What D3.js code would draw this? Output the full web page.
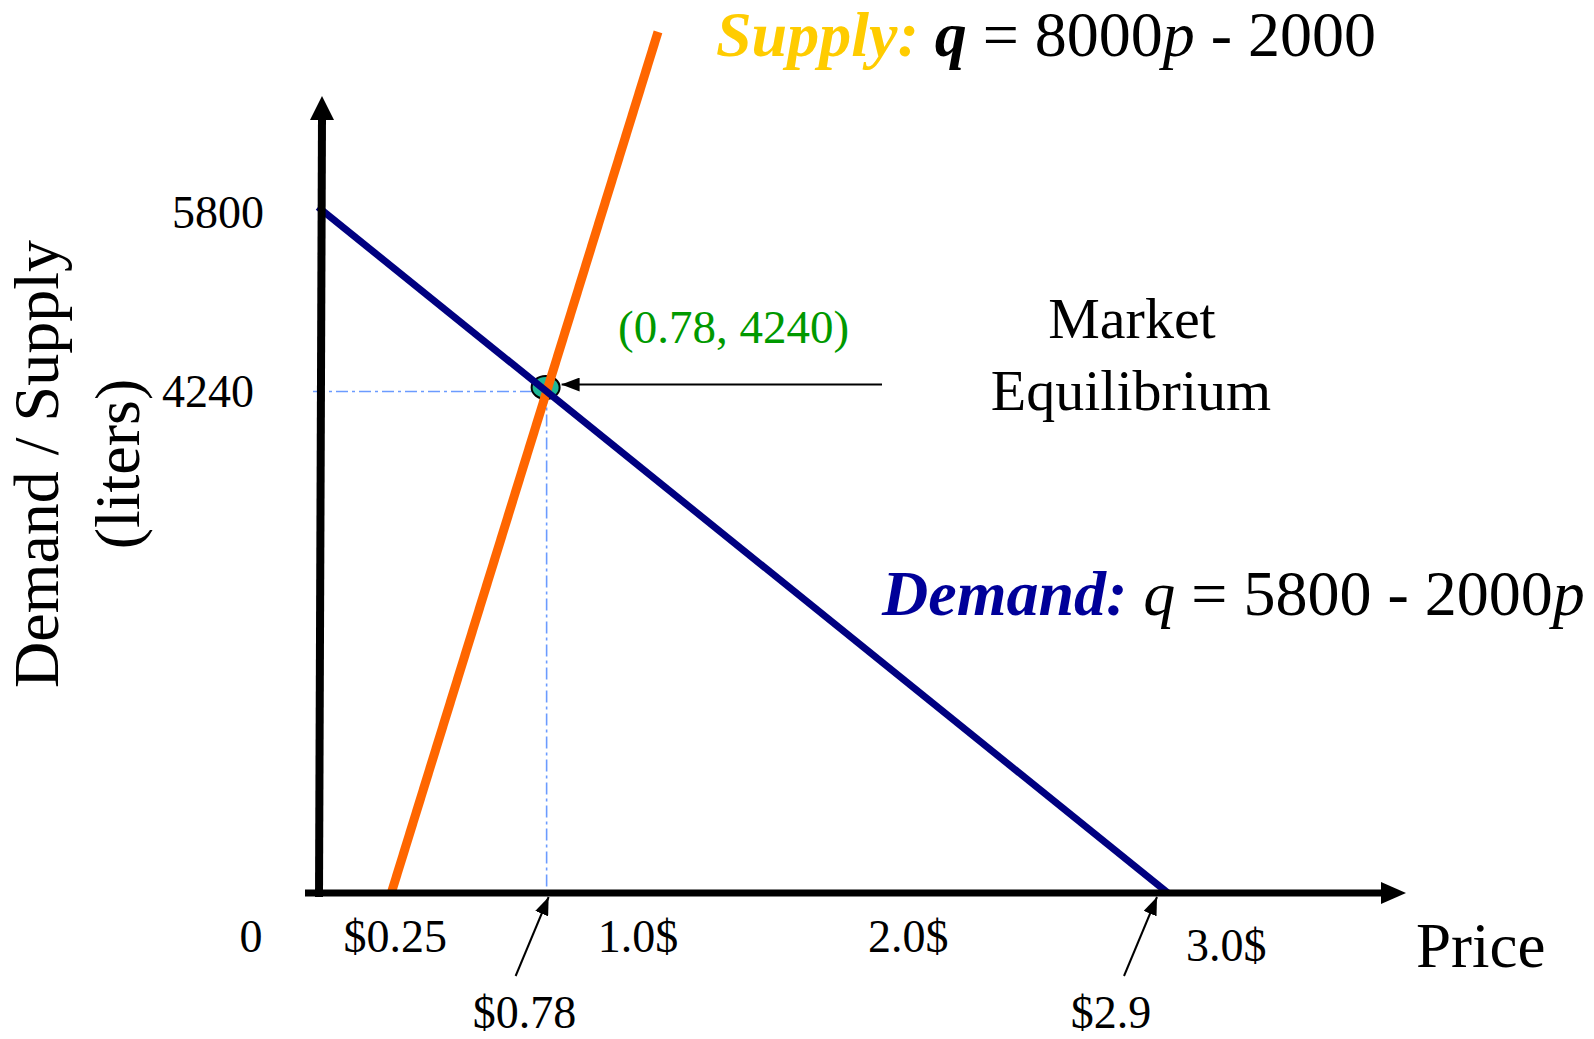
<!DOCTYPE html>
<html>
<head>
<meta charset="utf-8">
<script src="https://cdn.jsdelivr.net/npm/d3@7/dist/d3.min.js"></script>
<style>
  html, body { margin: 0; padding: 0; background: #ffffff; }
  svg { display: block; }
  text { font-family: "Liberation Serif", "Times New Roman", serif; }
</style>
</head>
<body>
<svg id="chart" width="1594" height="1039"></svg>
<script>
// ---- Model: linear demand and supply curves (price in $, quantity in liters)
const demandPrices = [0, 2.9];
const demandQty    = [5800, 0];          // q = 5800 - 2000p
const supplyPrices = [0.25, 1.16];
const supplyQty    = [0, 7280];          // q = 8000p - 2000
const eqPrice = 0.78;
const eqQty = 4240;

// ---- Axis labels
const yTickValues = [5800, 4240];
const yTickLabels = ["5800", "4240"];
const xTickValues = [0.25, 1.0, 2.0, 3.0];
const xTickLabels = ["$0.25", "1.0$", "2.0$", "3.0$"];
const priceCallouts = [0.78, 2.9];
const priceCalloutLabels = ["$0.78", "$2.9"];

const svg = d3.select("#chart");

const x = d3.scaleLinear().domain([0, 2.9]).range([318, 1168]);
const y = d3.scaleLinear().domain([0, 5800]).range([893, 207]);

// arrowhead marker for the thin pointer lines
const defs = svg.append("defs");
defs.append("marker")
  .attr("id", "thinHead")
  .attr("viewBox", "0 0 18 14")
  .attr("refX", 18).attr("refY", 7)
  .attr("markerWidth", 18).attr("markerHeight", 14)
  .attr("markerUnits", "userSpaceOnUse")
  .attr("orient", "auto")
  .append("path").attr("d", "M0,0 L18,7 L0,14 Z").attr("fill", "#000");

// ---- Guide lines to the equilibrium point
const guide = { stroke: "#6b9bff", width: 1.6, dash: "12,4,3,4" };
svg.append("line")
  .attr("x1", 313).attr("x2", x(eqPrice))
  .attr("y1", y(eqQty)).attr("y2", y(eqQty))
  .attr("stroke", guide.stroke).attr("stroke-width", guide.width)
  .attr("stroke-dasharray", guide.dash);
svg.append("line")
  .attr("x1", x(eqPrice)).attr("x2", x(eqPrice))
  .attr("y1", y(eqQty)).attr("y2", y(0) + 3)
  .attr("stroke", guide.stroke).attr("stroke-width", guide.width)
  .attr("stroke-dasharray", guide.dash);

// equilibrium marker
svg.append("ellipse")
  .attr("cx", x(eqPrice) - 1).attr("cy", y(eqQty) - 4)
  .attr("rx", 14).attr("ry", 11.5)
  .attr("fill", "#1fb896").attr("stroke", "#000").attr("stroke-width", 2);

// ---- Curves
const line = d3.line().x(d => x(d[0])).y(d => y(d[1]));

svg.append("path")
  .datum(d3.zip(supplyPrices, supplyQty))
  .attr("d", line)
  .attr("fill", "none").attr("stroke", "#ff6600")
  .attr("stroke-width", 9).attr("stroke-linecap", "butt");

svg.append("path")
  .datum(d3.zip(demandPrices, demandQty))
  .attr("d", line)
  .attr("fill", "none").attr("stroke", "#000080")
  .attr("stroke-width", 7).attr("stroke-linecap", "butt");

// ---- Axes (thick arrows)
const axisX0 = x(0);
const axisY0 = y(0);
svg.append("line")
  .attr("x1", axisX0 + 1).attr("x2", axisX0 + 4)
  .attr("y1", axisY0 + 4).attr("y2", 117)
  .attr("stroke", "#000").attr("stroke-width", 8);
svg.append("path")
  .attr("d", `M${axisX0 + 4},96 L${axisX0 + 16},120 L${axisX0 - 8},120 Z`)
  .attr("fill", "#000");

svg.append("line")
  .attr("x1", 305).attr("x2", 1383)
  .attr("y1", axisY0).attr("y2", axisY0)
  .attr("stroke", "#000").attr("stroke-width", 7);
svg.append("path")
  .attr("d", `M1406,${axisY0} L1381,${axisY0 - 11} L1381,${axisY0 + 11} Z`)
  .attr("fill", "#000");

// ---- Tick labels
const yLabelRight = [264, 254];
const yLabelDrop = [21, 15];
svg.selectAll("text.ytick")
  .data(yTickValues)
  .join("text")
  .attr("class", "ytick")
  .attr("x", (d, i) => yLabelRight[i])
  .attr("y", (d, i) => y(d) + yLabelDrop[i])
  .attr("text-anchor", "end")
  .attr("font-size", 46)
  .text((d, i) => yTickLabels[i]);

svg.append("text")
  .attr("x", 251).attr("y", axisY0 + 59)
  .attr("text-anchor", "middle").attr("font-size", 46)
  .text("0");

const xNudge = [4, 27, 4, 29];
const xDrop = [59, 59, 59, 68];
svg.selectAll("text.xtick")
  .data(xTickValues)
  .join("text")
  .attr("class", "xtick")
  .attr("x", (d, i) => x(d) + xNudge[i])
  .attr("y", (d, i) => axisY0 + xDrop[i])
  .attr("text-anchor", "middle")
  .attr("font-size", 46)
  .text((d, i) => xTickLabels[i]);

// price callouts below the axis
const calloutTip = [2, -11];
const calloutLabel = [-22, -57];
priceCallouts.forEach((p, i) => {
  const tx = x(p) + calloutTip[i];
  svg.append("line")
    .attr("x1", tx - 33).attr("y1", axisY0 + 83)
    .attr("x2", tx).attr("y2", axisY0 + 4)
    .attr("stroke", "#000").attr("stroke-width", 2)
    .attr("marker-end", "url(#thinHead)");
  svg.append("text")
    .attr("x", x(p) + calloutLabel[i]).attr("y", axisY0 + 135)
    .attr("text-anchor", "middle").attr("font-size", 46)
    .text(priceCalloutLabels[i]);
});

// ---- Axis titles
svg.append("text")
  .attr("x", 1416).attr("y", 967)
  .attr("font-size", 63)
  .text("Price");

const yTitle = svg.append("g").attr("transform", "translate(58,464) rotate(-90)");
yTitle.append("text").attr("text-anchor", "middle").attr("font-size", 64)
  .text("Demand / Supply");
yTitle.append("text").attr("text-anchor", "middle").attr("font-size", 64)
  .attr("y", 81)
  .text("(liters)");

// ---- Equilibrium annotation
svg.append("text")
  .attr("x", 618).attr("y", 343)
  .attr("font-size", 47).attr("fill", "#009900")
  .text(`(${eqPrice}, ${eqQty})`);

svg.append("line")
  .attr("x1", 882).attr("x2", x(eqPrice) + 15)
  .attr("y1", y(eqQty) - 7).attr("y2", y(eqQty) - 7)
  .attr("stroke", "#000").attr("stroke-width", 2)
  .attr("marker-end", "url(#thinHead)");

const eqLabel = svg.append("text").attr("text-anchor", "middle").attr("font-size", 58);
eqLabel.append("tspan").attr("x", 1132).attr("y", 338).text("Market");
eqLabel.append("tspan").attr("x", 1131).attr("y", 410).text("Equilibrium");

// ---- Curve equations
const supplyEq = svg.append("text").attr("x", 716).attr("y", 56).attr("font-size", 64);
supplyEq.append("tspan").attr("font-weight", "bold").attr("font-style", "italic")
  .attr("fill", "#ffcc00").text("Supply:");
supplyEq.append("tspan").text(" ");
supplyEq.append("tspan").attr("font-weight", "bold").attr("font-style", "italic").text("q");
supplyEq.append("tspan").text(" = 8000");
supplyEq.append("tspan").attr("font-style", "italic").text("p");
supplyEq.append("tspan").text(" - 2000");

const demandEq = svg.append("text").attr("x", 882).attr("y", 615).attr("font-size", 64);
demandEq.append("tspan").attr("font-weight", "bold").attr("font-style", "italic")
  .attr("fill", "#000099").text("Demand:");
demandEq.append("tspan").text(" ");
demandEq.append("tspan").attr("font-style", "italic").text("q");
demandEq.append("tspan").text(" = 5800 - 2000");
demandEq.append("tspan").attr("font-style", "italic").text("p");
</script>
</body>
</html>
